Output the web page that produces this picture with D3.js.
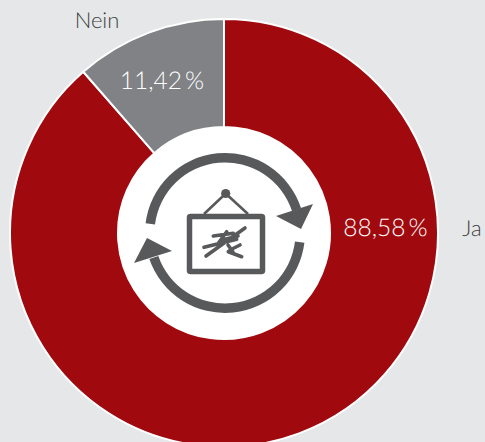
<!DOCTYPE html>
<html><head><meta charset="utf-8">
<script src="https://cdn.jsdelivr.net/npm/d3@7/dist/d3.min.js"></script>
<style>html,body{margin:0;padding:0;background:#e6e7e8;overflow:hidden}svg{display:block}text{font-family:Lato,sans-serif;font-weight:300;text-rendering:geometricPrecision}</style>
</head><body><svg id="c" width="485" height="442"></svg>
<script>
const categories = ["Ja", "Nein"];
const values = [88.58, 11.42];
const valueLabels = ["88,58\u2009%", "11,42\u2009%"];
const colors = ["#a0090e", "#808285"];

const W = 485, H = 442, cx = 224, cy = 233, R = 214, r0 = 106;
const svg = d3.select("#c");
svg.append("rect").attr("width", W).attr("height", H).attr("fill", "#e6e7e8");
const g = svg.append("g").attr("transform", `translate(${cx},${cy})`);
const pie = d3.pie().sort(null).value(d => d)(values);
const arc = d3.arc().innerRadius(r0).outerRadius(R);
g.selectAll("path.s").data(pie).join("path").attr("class", "s")
  .attr("d", arc).attr("fill", (d, i) => colors[i])
  .attr("stroke", "#fff").attr("stroke-width", 2);
g.append("circle").attr("r", r0).attr("fill", "#fff");

// value and category labels
const labelPos = [{vx: 161.5, vy: 3, cx: 248, cy: 3}, {vx: -62, vy: -144, cx: -127, cy: -205}];
g.selectAll("text.v").data(valueLabels).join("text").attr("class", "v")
  .attr("x", (d, i) => labelPos[i].vx).attr("y", (d, i) => labelPos[i].vy)
  .attr("text-anchor", "middle").attr("fill", "#fff").attr("font-size", 24.5).text(d => d);
g.selectAll("text.c").data(categories).join("text").attr("class", "c")
  .attr("x", (d, i) => labelPos[i].cx).attr("y", (d, i) => labelPos[i].cy)
  .attr("text-anchor", "middle").attr("fill", "#404041").attr("font-size", 22).text(d => d);

// centre icon
const ink = "#58595b";
const ic = svg.append("g");
const ring = d3.arc().innerRadius(70.5).outerRadius(80);
const rad = Math.PI / 180;
ic.append("path").attr("transform", `translate(${cx + 1},${cy})`)
  .attr("d", ring({startAngle: -83 * rad, endAngle: 72 * rad})).attr("fill", ink);
ic.append("path").attr("transform", `translate(${cx + 1},${cy})`)
  .attr("d", ring({startAngle: 97 * rad, endAngle: 251 * rad})).attr("fill", ink);
ic.append("path").attr("d", "M313,204L276,216L301,229Z").attr("fill", ink);
ic.append("path").attr("d", "M134,263L147,238L172,251Z").attr("fill", ink);
ic.append("rect").attr("x", 189.5).attr("y", 216.5).attr("width", 73).attr("height", 55)
  .attr("fill", "none").attr("stroke", ink).attr("stroke-width", 5.5).attr("rx", 1);
ic.append("path").attr("d", "M204,214L225.7,193.5L248,214").attr("fill", "none").attr("stroke", ink).attr("stroke-width", 2.6);
ic.append("circle").attr("cx", 225.7).attr("cy", 193.5).attr("r", 4.6).attr("fill", ink);
ic.append("path")
  .attr("d", "M245,228L206,256M204,247.3L236.7,239.3M213.3,236L233.3,233.3M226.7,231.7L218.3,243.3M228.3,251.7L241.7,256.7M230,250L240,245M222,240L238,236M228,245L233,252")
  .attr("fill", "none").attr("stroke", ink).attr("stroke-width", 3.6).attr("stroke-linecap", "round");
</script></body></html>
